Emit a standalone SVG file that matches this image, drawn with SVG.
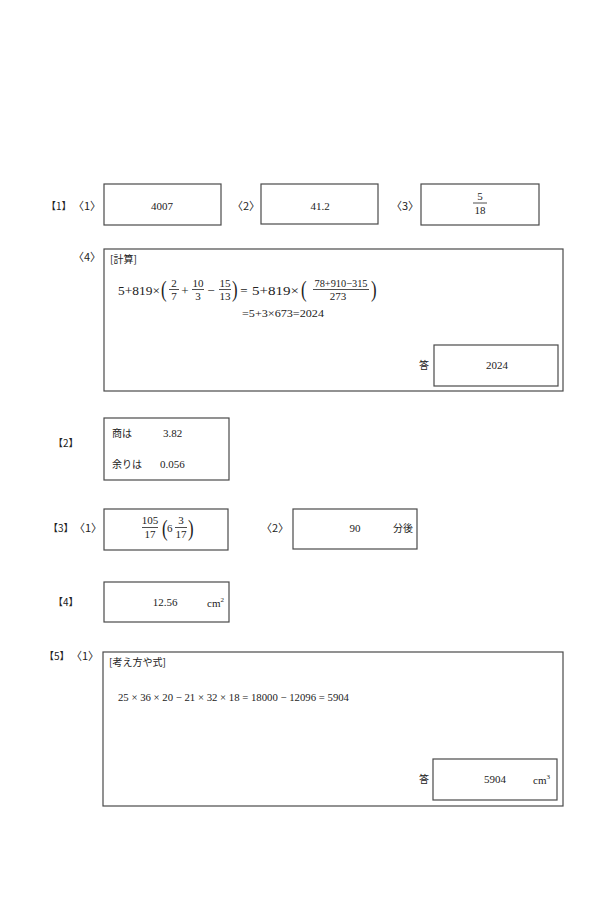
<svg xmlns="http://www.w3.org/2000/svg" width="600" height="900" viewBox="0 0 600 900">
<style>
.bx{fill:none;stroke:#4a4a4a;stroke-width:1.2}
.lb{font-family:"Noto Sans CJK JP","Noto Sans",sans-serif;font-size:11px;fill:#222}
.lk{font-family:"Noto Sans CJK JP","Noto Sans",sans-serif;font-size:10px;fill:#222}
.jp{font-family:"Noto Sans CJK JP","Noto Sans",sans-serif;font-size:10px;fill:#222}
.n{font-family:"Liberation Serif","Times New Roman",serif;font-size:11px;fill:#222}
.m{font-family:"Liberation Serif","Times New Roman",serif;font-size:13px;fill:#222}
.o{font-family:"Liberation Serif","Times New Roman",serif;font-size:13px;fill:#222;text-anchor:middle}
.f{font-family:"Liberation Serif","Times New Roman",serif;font-size:11px;fill:#222;text-anchor:middle}
.c{text-anchor:middle}
.bar{stroke:#222;stroke-width:0.8}
.p{font-family:"Liberation Serif","Times New Roman",serif;font-size:24px;fill:#222}
</style>
<rect width="600" height="900" fill="#fff"/>

<g id="q1">
<text class="lk" x="46" y="210">【1】</text>
<text class="lb" x="73" y="210">〈1〉</text>
<g id="q1-1"><rect class="bx" x="104" y="184" width="117" height="41"/><text class="n c" x="162" y="210">4007</text></g>
<text class="lb" x="232" y="210">〈2〉</text>
<g id="q1-2"><rect class="bx" x="261" y="184" width="117" height="40"/><text class="n c" x="320" y="210">41.2</text></g>
<text class="lb" x="391" y="210">〈3〉</text>
<g id="q1-3"><rect class="bx" x="421" y="184" width="118" height="41"/>
<text class="f" x="480" y="200">5</text><line class="bar" x1="473" y1="203" x2="487" y2="203"/><text class="f" x="480" y="214">18</text></g>
</g>

<g id="q1-4">
<text class="lb" x="73" y="261">〈4〉</text>
<rect class="bx" x="104" y="249" width="459" height="142"/>
<text class="jp" x="110" y="263">[計算]</text>
<text class="m" x="118" y="295" textLength="42" lengthAdjust="spacingAndGlyphs">5+819×</text>
<text class="p" x="161" y="297" transform="translate(161,0) scale(0.7,1) translate(-161,0)">(</text>
<text class="f" x="174" y="287">2</text><line class="bar" x1="169" y1="289.5" x2="179" y2="289.5"/><text class="f" x="174" y="300">7</text>
<text class="o" x="185" y="295">+</text>
<text class="f" x="198" y="287">10</text><line class="bar" x1="192" y1="289.5" x2="204" y2="289.5"/><text class="f" x="198" y="300">3</text>
<text class="o" x="211" y="295">−</text>
<text class="f" x="225" y="287">15</text><line class="bar" x1="219" y1="289.5" x2="231" y2="289.5"/><text class="f" x="225" y="300">13</text>
<text class="p" x="232" y="297" transform="translate(232,0) scale(0.7,1) translate(-232,0)">)</text>
<text class="o" x="244" y="295">=</text>
<text class="m" x="252" y="295" textLength="47" lengthAdjust="spacingAndGlyphs">5+819×</text>
<text class="p" x="301" y="297" transform="translate(301,0) scale(0.7,1) translate(-301,0)">(</text>
<text class="f" x="341" y="287" textLength="53" lengthAdjust="spacingAndGlyphs">78+910−315</text><line class="bar" x1="313" y1="289.5" x2="369" y2="289.5"/><text class="f" x="338" y="300">273</text>
<text class="p" x="371" y="297" transform="translate(371,0) scale(0.7,1) translate(-371,0)">)</text>
<text class="n" x="242" y="317" textLength="82" lengthAdjust="spacingAndGlyphs">=5+3×673=2024</text>
<text class="jp" x="419" y="369">答</text>
<rect class="bx" x="434" y="345" width="124" height="41"/>
<text class="n c" x="497" y="369">2024</text>
</g>

<g id="q2">
<text class="lk" x="53" y="447">【2】</text>
<rect class="bx" x="104" y="418" width="125" height="62"/>
<text class="jp" x="112" y="437">商は</text>
<text class="n" x="163" y="437">3.82</text>
<text class="jp" x="112" y="468">余りは</text>
<text class="n" x="160" y="468">0.056</text>
</g>

<g id="q3">
<text class="lk" x="48" y="532">【3】</text>
<text class="lb" x="74" y="532">〈1〉</text>
<g id="q3-1"><rect class="bx" x="104" y="509" width="124" height="41"/>
<text class="f" x="150" y="524">105</text><line class="bar" x1="142" y1="527.5" x2="158" y2="527.5"/><text class="f" x="150" y="538">17</text>
<text class="p" x="162" y="536" transform="translate(162,0) scale(0.7,1) translate(-162,0)">(</text>
<text class="n" x="167" y="532">6</text>
<text class="f" x="181" y="524">3</text><line class="bar" x1="175" y1="527.5" x2="187" y2="527.5"/><text class="f" x="181" y="538">17</text>
<text class="p" x="188" y="536" transform="translate(188,0) scale(0.7,1) translate(-188,0)">)</text>
</g>
<text class="lb" x="261" y="532">〈2〉</text>
<g id="q3-2"><rect class="bx" x="293" y="509" width="124" height="40"/>
<text class="n c" x="355" y="532">90</text>
<text class="jp" x="393" y="532">分後</text></g>
</g>

<g id="q4">
<text class="lk" x="53" y="606">【4】</text>
<rect class="bx" x="104" y="582" width="125" height="40"/>
<text class="n c" x="165" y="606">12.56</text>
<text class="n" x="207" y="607">cm<tspan font-size="7" dy="-5">2</tspan></text>
</g>

<g id="q5">
<text class="lk" x="44" y="660">【5】</text>
<text class="lb" x="71" y="660">〈1〉</text>
<rect class="bx" x="103" y="652" width="460" height="154"/>
<text class="jp" x="109" y="666">[考え方や式]</text>
<text class="n" x="118" y="701" textLength="231" lengthAdjust="spacingAndGlyphs">25 × 36 × 20 − 21 × 32 × 18 = 18000 − 12096 = 5904</text>
<text class="jp" x="419" y="783">答</text>
<rect class="bx" x="433" y="759" width="124" height="41"/>
<text class="n c" x="495" y="783">5904</text>
<text class="n" x="533" y="784">cm<tspan font-size="7" dy="-5">3</tspan></text>
</g>
</svg>
